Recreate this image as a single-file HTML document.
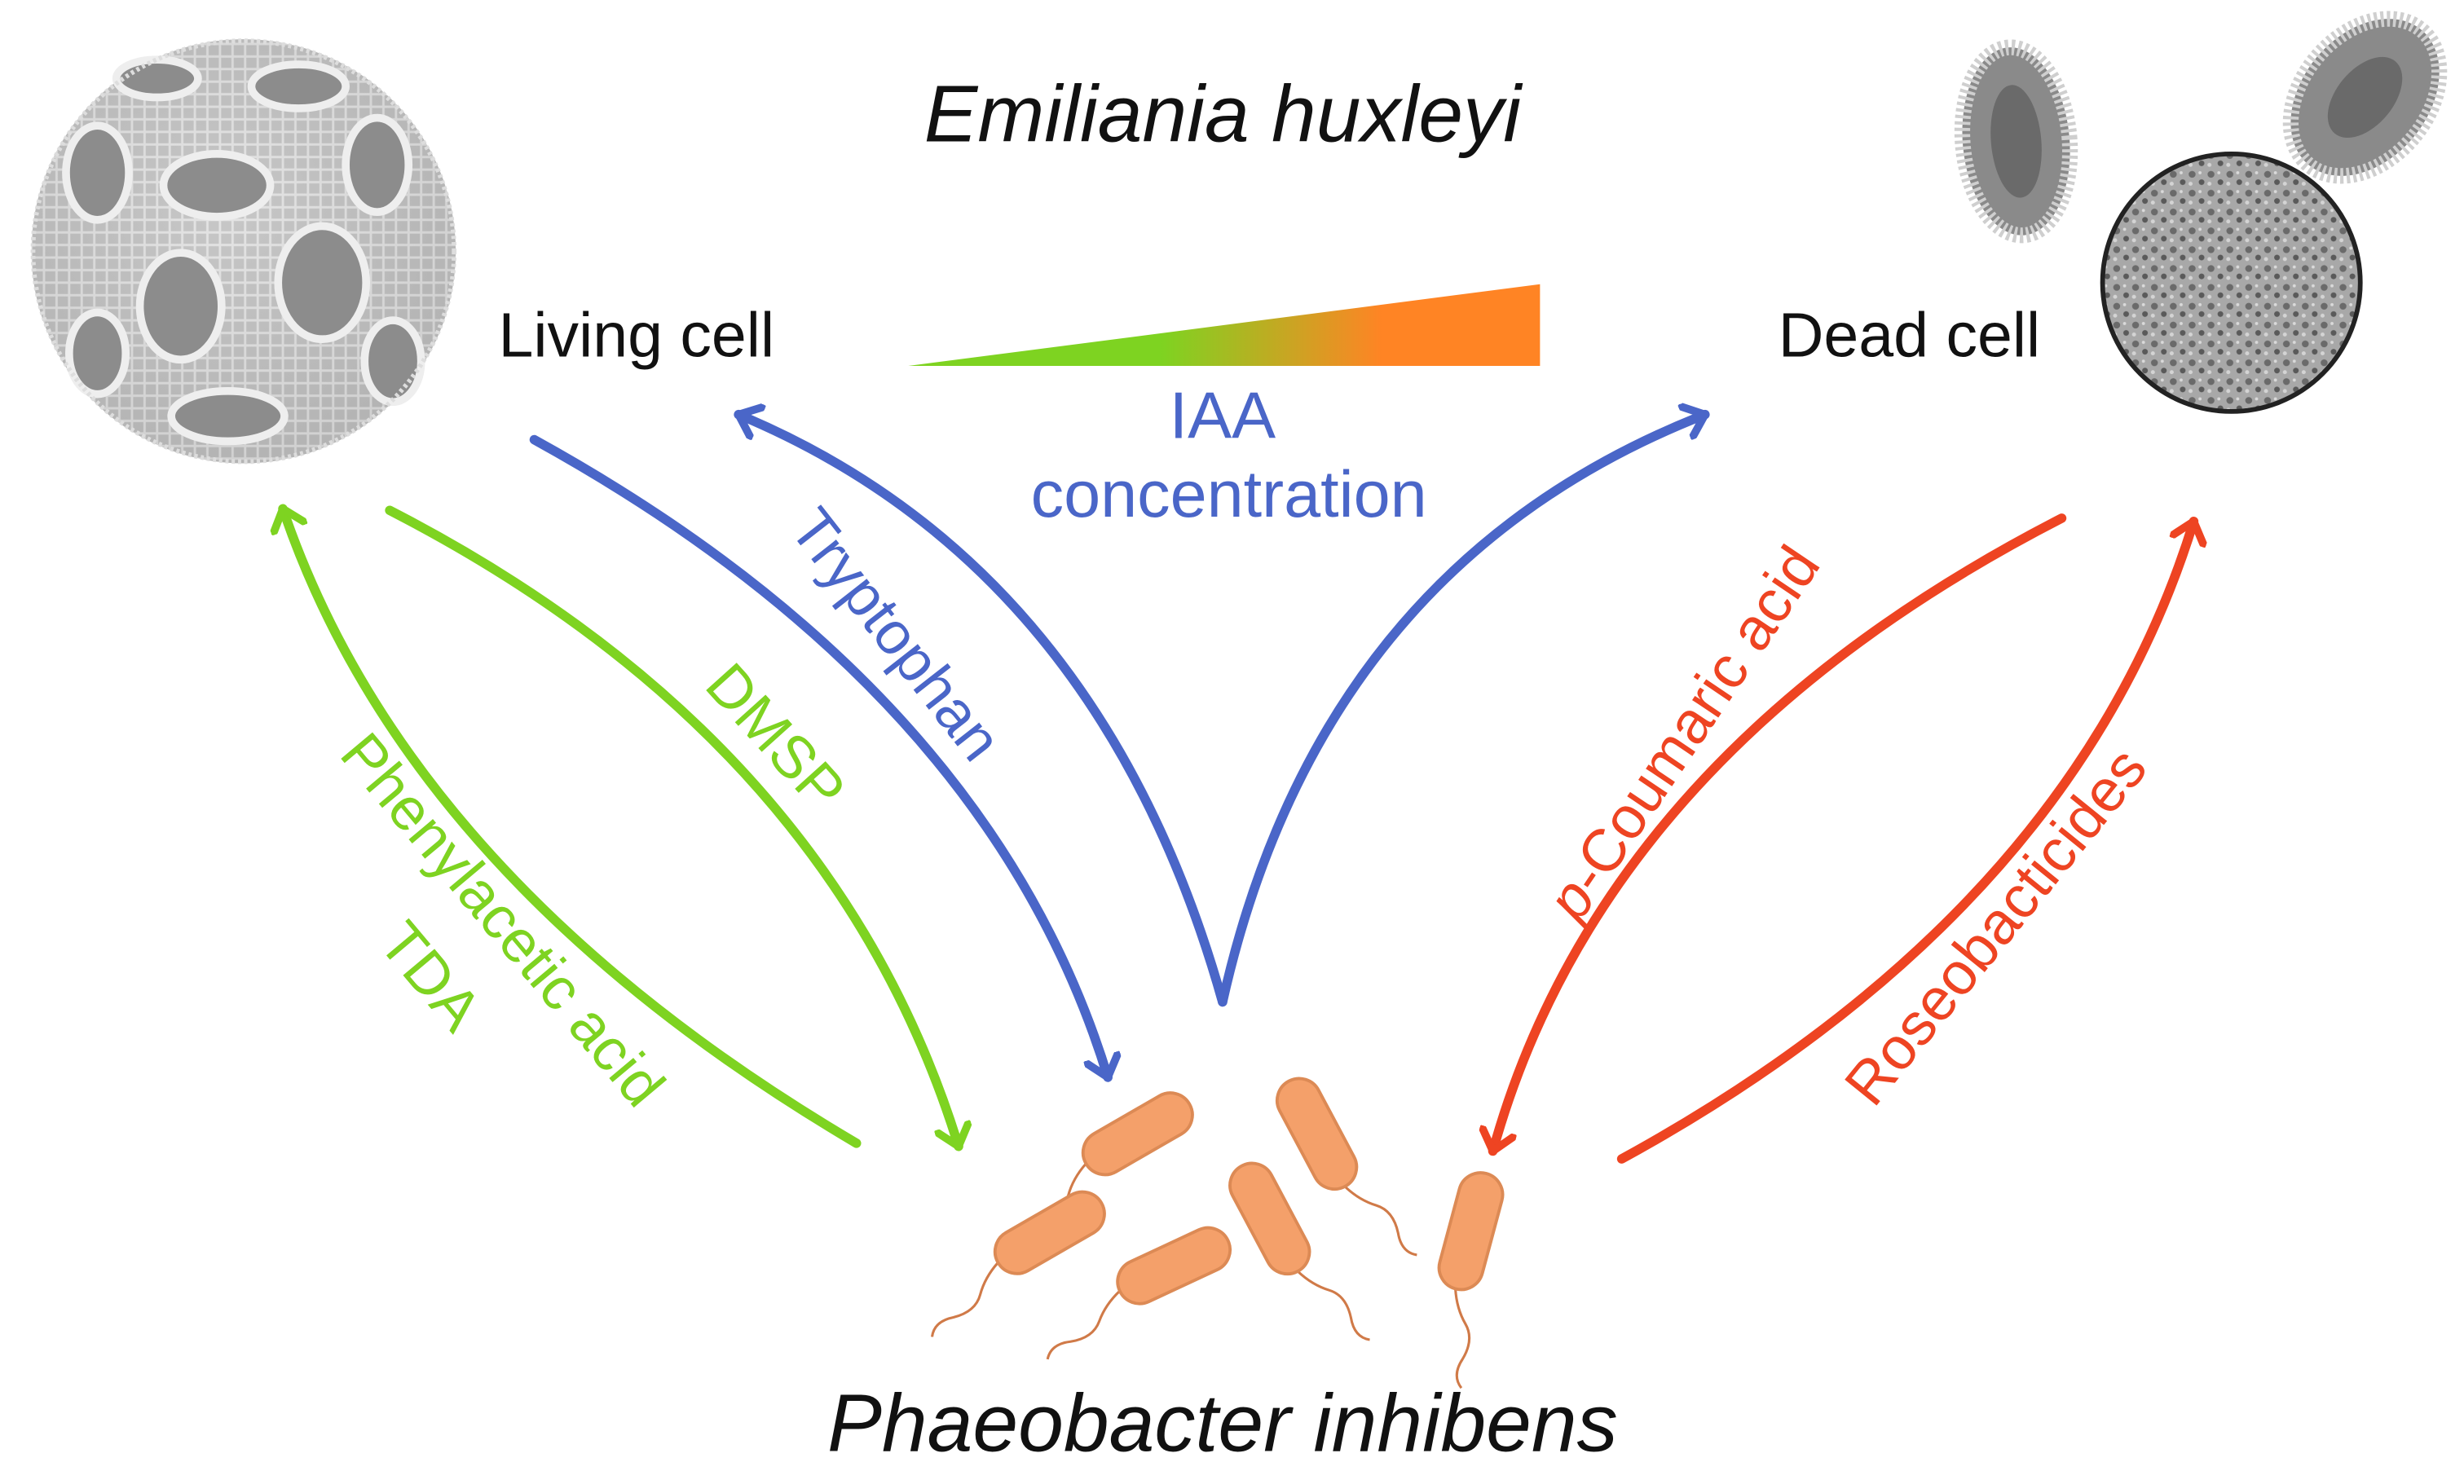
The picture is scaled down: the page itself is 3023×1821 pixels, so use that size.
<!DOCTYPE html>
<html><head><meta charset="utf-8"><style>
html,body{margin:0;padding:0;background:#fff;}
svg{display:block;}
text{font-family:"Liberation Sans",sans-serif;}
</style></head><body>
<svg width="3023" height="1821" viewBox="0 0 1568 945" preserveAspectRatio="none" xmlns="http://www.w3.org/2000/svg">
<defs>
<linearGradient id="g" x1="0" x2="1" y1="0" y2="0">
<stop offset="0" stop-color="#7ED321"/><stop offset="0.4" stop-color="#7ED321"/><stop offset="0.75" stop-color="#FF8424"/><stop offset="1" stop-color="#FF8424"/></linearGradient>
<radialGradient id="sph" cx="0.45" cy="0.4" r="0.6"><stop offset="0" stop-color="#d4d4d4"/><stop offset="1" stop-color="#a8a8a8"/></radialGradient>
<pattern id="noise" width="12" height="12" patternUnits="userSpaceOnUse">
<rect width="12" height="12" fill="#a8a8a8"/><circle cx="3" cy="3" r="2.2" fill="#6a6a6a"/><circle cx="9" cy="8" r="1.8" fill="#5a5a5a"/><circle cx="8" cy="2" r="1" fill="#dadada"/><circle cx="2" cy="9" r="1.3" fill="#d4d4d4"/></pattern>
<pattern id="lace" width="8" height="8" patternUnits="userSpaceOnUse"><rect width="8" height="8" fill="#bdbdbd"/><path d="M0,4 H8 M4,0 V8" stroke="#f2f2f2" stroke-width="1.5"/></pattern>
<marker id="mb" viewBox="-14 -12 16 24" refX="0" refY="0" markerWidth="16" markerHeight="24" markerUnits="userSpaceOnUse" orient="auto"><path d="M-12,-10 L0,0 L-12,10" fill="none" stroke="#4A66C8" stroke-width="5" stroke-linecap="round" stroke-linejoin="round"/></marker>
<marker id="mg" viewBox="-14 -12 16 24" refX="0" refY="0" markerWidth="16" markerHeight="24" markerUnits="userSpaceOnUse" orient="auto"><path d="M-12,-10 L0,0 L-12,10" fill="none" stroke="#7ED321" stroke-width="5" stroke-linecap="round" stroke-linejoin="round"/></marker>
<marker id="mr" viewBox="-14 -12 16 24" refX="0" refY="0" markerWidth="16" markerHeight="24" markerUnits="userSpaceOnUse" orient="auto"><path d="M-12,-10 L0,0 L-12,10" fill="none" stroke="#EE4422" stroke-width="5" stroke-linecap="round" stroke-linejoin="round"/></marker>
<g id="bac"><path d="M-38,0 q-12,4 -20,12 q-8,8 -22,4 q-12,-4 -18,4" fill="none" stroke="#D07A48" stroke-width="1.6"/><rect x="-38" y="-14" width="76" height="28" rx="14" fill="#F4A06A" stroke="#DC8A55" stroke-width="2"/></g>
</defs>

<!-- living cell -->
<circle cx="155" cy="160" r="135" fill="url(#lace)"/>
<circle cx="155" cy="160" r="135" fill="url(#sph)" opacity="0.45"/>
<g fill="#8c8c8c" stroke="#eeeeee" stroke-width="5">
<ellipse cx="138" cy="118" rx="34" ry="20"/><ellipse cx="205" cy="180" rx="28" ry="36"/><ellipse cx="115" cy="195" rx="26" ry="34"/>
<ellipse cx="240" cy="105" rx="20" ry="30"/><ellipse cx="62" cy="110" rx="20" ry="30"/><ellipse cx="145" cy="265" rx="36" ry="16"/>
<ellipse cx="190" cy="55" rx="30" ry="14"/><ellipse cx="62" cy="225" rx="18" ry="26"/><ellipse cx="250" cy="230" rx="18" ry="26"/><ellipse cx="100" cy="50" rx="26" ry="12"/></g>
<circle cx="155" cy="160" r="134" fill="none" stroke="#ddd" stroke-width="3" stroke-dasharray="2 2"/>

<!-- dead cell -->
<g transform="translate(1283,90) rotate(-5)"><ellipse rx="34" ry="60" fill="#8a8a8a" stroke="#cfcfcf" stroke-width="10" stroke-dasharray="2 2"/><ellipse rx="16" ry="36" fill="#6a6a6a"/></g>
<g transform="translate(1505,62) rotate(40)"><ellipse rx="40" ry="56" fill="#8a8a8a" stroke="#cfcfcf" stroke-width="10" stroke-dasharray="2 2"/><ellipse rx="18" ry="30" fill="#6a6a6a"/></g>
<circle cx="1420" cy="180" r="82" fill="url(#noise)" stroke="#222" stroke-width="3"/>

<text x="778" y="90" font-size="51" font-style="italic" text-anchor="middle" fill="#111">Emiliania huxleyi</text>
<text x="405" y="227" font-size="40" text-anchor="middle" fill="#111">Living cell</text>
<text x="1215" y="227" font-size="40" text-anchor="middle" fill="#111">Dead cell</text>
<polygon points="578,233 980,181 980,233" fill="url(#g)"/>
<text x="778" y="279" font-size="42" text-anchor="middle" fill="#4A66C8">IAA</text>
<text x="782" y="329" font-size="42" text-anchor="middle" fill="#4A66C8">concentration</text>

<!-- blue -->
<g fill="none" stroke="#4A66C8" stroke-width="6" stroke-linecap="round">
<path d="M340,280 Q630,440 705,686" marker-end="url(#mb)"/>
<path d="M778,638 Q700,360 470,264" marker-end="url(#mb)"/>
<path d="M778,638 Q840,360 1085,264" marker-end="url(#mb)"/>
</g>
<!-- green -->
<g fill="none" stroke="#7ED321" stroke-width="6" stroke-linecap="round">
<path d="M545,728 Q260,560 180,324" marker-end="url(#mg)"/>
<path d="M248,325 Q530,470 610,730" marker-end="url(#mg)"/>
</g>
<!-- red -->
<g fill="none" stroke="#EE4422" stroke-width="6" stroke-linecap="round">
<path d="M1312,330 Q1020,480 950,733" marker-end="url(#mr)"/>
<path d="M1032,738 Q1320,580 1396,332" marker-end="url(#mr)"/>
</g>

<text transform="translate(560,412) rotate(52)" font-size="38" text-anchor="middle" fill="#4A66C8">Tryptophan</text>
<text transform="translate(484,478) rotate(48)" font-size="38" text-anchor="middle" fill="#7ED321">DMSP</text>
<text transform="translate(310,594) rotate(50)" font-size="38" text-anchor="middle" fill="#7ED321">Phenylacetic acid</text>
<text transform="translate(264,630) rotate(50)" font-size="38" text-anchor="middle" fill="#7ED321">TDA</text>
<text transform="translate(1082,474) rotate(-56)" font-size="38" text-anchor="middle" fill="#EE4422"><tspan font-style="italic">p</tspan>-Coumaric acid</text>
<text transform="translate(1280,598) rotate(-51)" font-size="38" text-anchor="middle" fill="#EE4422">Roseobacticides</text>

<!-- bacteria -->
<use href="#bac" transform="translate(724,722) rotate(-30)"/>
<use href="#bac" transform="translate(668,785) rotate(-30)"/>
<use href="#bac" transform="translate(747,806) rotate(-25)"/>
<use href="#bac" transform="translate(808,776) rotate(242)"/>
<use href="#bac" transform="translate(838,722) rotate(242)"/>
<use href="#bac" transform="translate(936,784) rotate(-75)"/>

<text x="778" y="924" font-size="52" font-style="italic" text-anchor="middle" fill="#111">Phaeobacter inhibens</text>
</svg>
</body></html>
